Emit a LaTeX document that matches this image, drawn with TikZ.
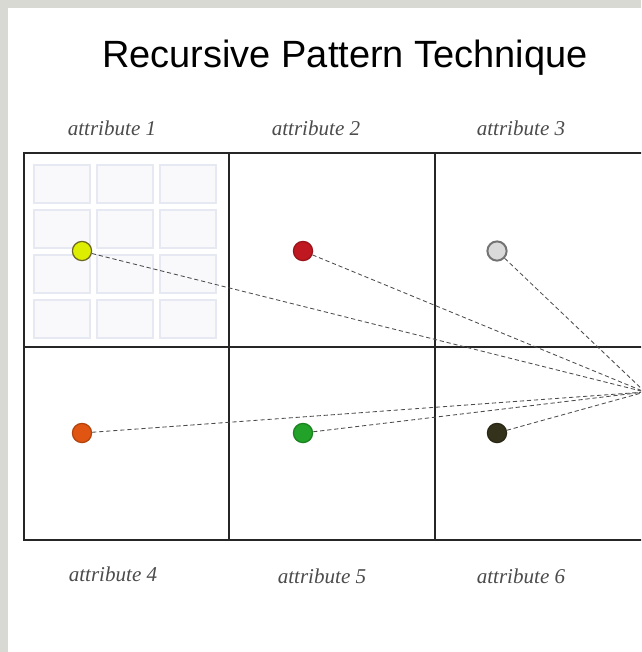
\documentclass[tikz,border=0pt]{standalone}
\usepackage{fontspec}
\setmainfont{Liberation Serif}
\setsansfont{Liberation Sans}
\usetikzlibrary{positioning}
\definecolor{pagegrey}{HTML}{D9D9D4}
\definecolor{dotyellow}{HTML}{DDEE00}
\definecolor{dotred}{HTML}{C01820}
\definecolor{dotgrey}{HTML}{DADADA}
\definecolor{dotorange}{HTML}{E05512}
\definecolor{dotgreen}{HTML}{22A228}
\definecolor{dotdark}{HTML}{34321A}
\definecolor{subgrid}{HTML}{E6E8F2}

\begin{document}
\begin{tikzpicture}[
    x=0.025cm, y=-0.025cm,
    cellline/.style={line width=1.8pt, black!85},
    dot/.style={circle, minimum size=0.48cm, inner sep=0pt, line width=0.9pt},
    link/.style={densely dashed, line width=0.6pt, black!70},
    attr/.style={font=\itshape\fontsize{15}{17}\selectfont, text=black!70}
  ]
    \useasboundingbox (0,0) rectangle (641,652);
    \fill[pagegrey] (0,0) rectangle (641,652);
    \fill[white] (8,8) rectangle (641,652);
    \clip (0,0) rectangle (641,652);

    \node[font=\sffamily\fontsize{27}{30}\selectfont] (title) at (345,58)
      {Recursive Pattern Technique};

    % faint pattern in the first cell
    \foreach \c in {0,1,2}
      \foreach \r in {0,1,2,3}
        \draw[subgrid, line width=0.9pt, fill=subgrid!25]
          ({34+\c*63},{165+\r*45}) rectangle ({90+\c*63},{203+\r*45});

    % grid of cells
    \draw[cellline] (24,153) rectangle (660,540);
    \draw[cellline] (24,347) -- (660,347);
    \draw[cellline] (229,153) -- (229,540);
    \draw[cellline] (435,153) -- (435,540);

    % attribute labels
    \node[attr] (lab1) at (112,128) {attribute 1};
    \node[attr] (lab2) at (316,128) {attribute 2};
    \node[attr] (lab3) at (521,128) {attribute 3};
    \node[attr] (lab4) at (113,574) {attribute 4};
    \node[attr] (lab5) at (322,576) {attribute 5};
    \node[attr] (lab6) at (521,576) {attribute 6};

    % one dot per attribute
    \node[dot, fill=dotyellow, draw=olive!70!black] (d1) at (82,251) {};
    \node[dot, fill=dotred, draw=dotred!80!black] (d2) at (303,251) {};
    \node[dot, fill=dotgrey, draw=black!55, line width=1.4pt] (d3) at (497,251) {};
    \node[dot, fill=dotorange, draw=dotorange!80!black] (d4) at (82,433) {};
    \node[dot, fill=dotgreen, draw=dotgreen!80!black] (d5) at (303,433) {};
    \node[dot, fill=dotdark, draw=dotdark!80!black] (d6) at (497,433) {};

    \coordinate (hub) at (645,392);
    \foreach \d in {d1,d2,d3,d4,d5,d6}
      \draw[link] (\d) -- (hub);
  \end{tikzpicture}
\end{document}
